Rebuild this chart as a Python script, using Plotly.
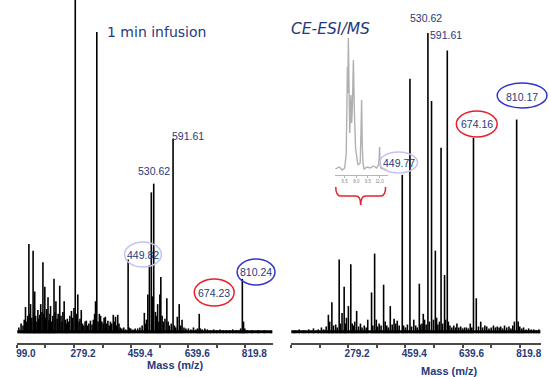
import plotly.graph_objects as go

W, H = 549, 377

# ---------------- data ----------------
# Left panel: 1 min infusion (m/z, relative intensity)
left_mz = [105, 112, 118, 122, 126, 130, 133, 136.7, 140, 142, 146, 150, 153, 155, 158, 162, 165, 168, 171,
           174, 178, 181, 184, 187, 190, 193, 197, 200, 203, 205, 209, 212, 216, 219, 222, 226, 229, 234, 238,
           241, 244, 248, 252, 255, 258, 262, 266, 271, 275, 279, 283, 287, 291, 295, 298, 302, 306, 310, 314,
           318, 322, 326, 331, 336, 340, 344, 347, 351, 355, 359, 363, 367, 371, 374, 378, 382, 386, 390, 394,
           398, 403, 406, 410, 413, 417, 421, 425, 430, 436, 442, 449.82, 453, 458, 465, 472, 480, 487, 494,
           501, 505, 508, 512, 517, 523, 527, 530.62, 536, 540, 543, 547, 550, 553, 557, 561, 566, 572, 576,
           580, 586, 591.61, 596, 600, 605, 611, 616, 620, 626, 632, 640, 648, 656, 664, 669, 674.23, 678, 684,
           692, 700, 710, 720, 730, 740, 750, 760, 770, 780, 790, 800, 805, 810.24, 814, 818, 825, 840, 860,
           880, 900]
left_int = [6, 10, 8, 14, 27, 12, 18, 92, 20, 30, 16, 85, 22, 43, 18, 12, 24, 15, 19,
            30, 22, 73, 20, 48, 16, 25, 37, 14, 20, 28, 12, 18, 56, 22, 33, 15, 20, 49, 18,
            12, 22, 33, 14, 10, 15, 12, 18, 23, 16, 26, 360, 20, 40, 12, 15, 24, 10, 8, 12,
            13, 8, 10, 13, 9, 14, 20, 33, 310, 12, 20, 18, 12, 10, 16, 17, 10, 13, 8, 12,
            10, 19, 12, 17, 8, 19, 10, 6, 5, 6, 4, 76, 6, 5, 4, 5, 5, 6, 8,
            21, 10, 14, 40, 70, 145, 38, 154, 22, 18, 30, 12, 40, 58, 18, 12, 15, 36, 12,
            8, 10, 200, 8, 6, 17, 30, 8, 14, 6, 5, 5, 4, 6, 4, 5, 20, 5, 4,
            5, 4, 3, 4, 3, 4, 3, 3, 3, 4, 3, 3, 5, 56, 12, 5, 3, 3, 3,
            3, 2]

# Right panel: CE-ESI/MS
right_mz = [110, 125, 140, 155, 170, 185, 195, 202, 210, 217, 221, 228, 233, 240, 245, 251, 255, 260, 266.7,
            270, 274, 280, 287.6, 292, 296, 300, 306, 312, 318, 323, 330, 336, 341, 353, 357, 362.7, 368, 372,
            377, 383, 391, 396, 401, 406, 412, 418, 424, 429, 434, 440, 449.77, 454, 460, 466, 474, 479, 486,
            492, 497, 503.5, 507, 512, 516, 520, 525, 530.62, 535, 542, 548, 554, 558, 562, 567, 572, 577, 583,
            586, 591.61, 595, 600, 606, 612, 618, 622, 628, 634, 640, 646, 652, 658, 664, 669, 674.16, 683, 690,
            697, 703, 710, 716, 723, 730, 737, 743, 749, 755, 760, 766, 772, 779, 786, 792, 798, 803, 810.17,
            815, 820, 826, 832, 840, 848, 856, 864, 872, 880]
right_int = [3, 4, 3, 4, 5, 4, 6, 4, 7, 19, 12, 32, 8, 9, 6, 76, 10, 21, 48,
             10, 16, 28, 71, 10, 8, 12, 23, 7, 10, 6, 8, 6, 14, 42, 8, 82, 14, 7,
             10, 8, 50, 12, 8, 6, 28, 9, 15, 10, 13, 8, 163, 8, 6, 9, 262, 7, 14,
             8, 6, 51, 9, 10, 20, 14, 9, 309, 12, 239, 14, 85, 16, 9, 12, 191, 10, 60,
             14, 291, 12, 8, 6, 8, 6, 10, 6, 7, 5, 6, 6, 5, 10, 6, 201, 36, 7,
             12, 6, 8, 7, 5, 6, 8, 6, 7, 6, 7, 5, 8, 6, 7, 5, 8, 12, 220,
             12, 7, 5, 6, 4, 5, 4, 4, 3, 4]

# Inset electropherogram (migration time, intensity)
inset_t = [5.3, 5.8, 6.2, 6.5, 6.7, 6.8, 6.85, 6.9, 6.97, 7.05, 7.15, 7.3, 7.4, 7.5, 7.62, 7.75, 7.9, 8.2,
           8.5, 8.6, 8.68, 8.76, 8.85, 9.0, 9.4, 9.8, 10.2, 10.6, 10.85, 10.95, 11.0, 11.05, 11.15, 11.5, 11.9]
inset_i = [4, 6, 3, 5, 20, 60, 106, 80, 135, 90, 40, 78, 50, 70, 113, 60, 25, 8,
           10, 40, 73, 30, 10, 4, 6, 5, 7, 5, 8, 15, 26, 12, 5, 4, 3]
inset_ticks = [6.5, 8.0, 9.5, 11.0]
inset_ticktext = ["6.5", "8.0", "9.5", "11.0"]

major_ticks = [99.0, 279.2, 459.4, 639.6, 819.8]
minor_ticks = [189.1, 369.3, 549.5, 729.7]
left_ticklabels = ["99.0", "279.2", "459.4", "639.6", "819.8"]
right_ticklabels = ["", "279.2", "459.4", "639.6", "819.8"]

left_label_text = ["530.62", "591.61", "449.82", "674.23", "810.24"]
right_label_text = ["530.62", "591.61", "449.77", "674.16", "810.17"]

# ---------------- helpers ----------------
def PX(x):
    return x / W


def PY(y):
    return 1 - y / H


def sticks(mz, it):
    xs, ys = [], []
    for m, v in zip(mz, it):
        xs += [m, m, None]
        ys += [0, v, None]
    return xs, ys


NAVY = "#253a7c"

fig = go.Figure()

lx, ly = sticks(left_mz, left_int)
rx, ry = sticks(right_mz, right_int)

# baselines (noise floor)
fig.add_trace(go.Scatter(x=[left_mz[0] - 5, left_mz[-1] + 5], y=[1.5, 1.5], mode="lines",
                         line=dict(color="black", width=3), xaxis="x", yaxis="y", hoverinfo="skip"))
fig.add_trace(go.Scatter(x=[right_mz[0] - 10, right_mz[-1] + 5], y=[1.5, 1.5], mode="lines",
                         line=dict(color="black", width=3), xaxis="x2", yaxis="y2", hoverinfo="skip"))
fig.add_trace(go.Scatter(x=lx, y=ly, mode="lines", line=dict(color="black", width=1.6),
                         xaxis="x", yaxis="y"))
fig.add_trace(go.Scatter(x=rx, y=ry, mode="lines", line=dict(color="black", width=1.6),
                         xaxis="x2", yaxis="y2"))
fig.add_trace(go.Scatter(x=inset_t, y=inset_i, mode="lines", line=dict(color="#b0b0b0", width=1.4),
                         xaxis="x3", yaxis="y3"))

tickvals = major_ticks + minor_ticks
axis_common = dict(showline=True, linecolor="#4a4a4a", linewidth=2, ticks="outside", ticklen=3,
                   tickwidth=1.5, tickcolor="#4a4a4a", showgrid=False, zeroline=False,
                   tickfont=dict(family="Liberation Sans", size=10, color=NAVY, weight="bold"),
                   tickvals=tickvals, ticklabelshift=9, ticklabelstandoff=-3, fixedrange=True)

ydom = [1 - 343 / H, 1]
fig.update_layout(
    width=W, height=H, margin=dict(l=0, r=0, t=0, b=0),
    paper_bgcolor="white", plot_bgcolor="rgba(0,0,0,0)", showlegend=False,
    xaxis=dict(domain=[PX(16), PX(273)], range=[99, 907], anchor="y",
               ticktext=left_ticklabels + [""] * len(minor_ticks), **axis_common),
    yaxis=dict(domain=ydom, range=[-10, 343], visible=False, anchor="x"),
    xaxis2=dict(domain=[PX(291), PX(542)], range=[99, 887], anchor="y2",
                ticktext=right_ticklabels + [""] * len(minor_ticks), **axis_common),
    yaxis2=dict(domain=ydom, range=[-10, 343], visible=False, anchor="x2"),
    xaxis3=dict(domain=[PX(335), PX(388)], range=[5.22, 12.03], anchor="y3", showline=True,
                linecolor="#b5b5b5", linewidth=1, ticks="outside", ticklen=2, tickcolor="#b5b5b5",
                tickvals=inset_ticks, ticktext=inset_ticktext, showgrid=False, zeroline=False,
                tickfont=dict(family="Liberation Sans", size=4.5, color="#888888")),
    yaxis3=dict(domain=[PY(175), PY(35)], range=[-2, 138], visible=False, anchor="x3"),
)

ann = []
def txt(t, x, y, size, color=NAVY, family="Liberation Sans", bold=False):
    ann.append(dict(text=t, x=PX(x), y=PY(y), xref="paper", yref="paper", showarrow=False,
                    xanchor="center", yanchor="middle",
                    font=dict(family=family, size=size, color=color, weight="bold" if bold else "normal")))

left_label_pos = [(153.5, 171), (188, 136), (143, 255), (214, 293), (256, 272)]
right_label_pos = [(427, 18), (447, 35), (399, 163), (478, 124), (523, 97)]
for t, (x, y) in zip(left_label_text, left_label_pos):
    txt(t, x, y, 10.5)
for t, (x, y) in zip(right_label_text, right_label_pos):
    txt(t, x, y, 10.5)

txt("1 min infusion", 156, 32, 14, family="DejaVu Sans")
txt("<i>CE-ESI/MS</i>", 331, 29, 15.5, family="DejaVu Sans")
txt("Mass (m/z)", 175, 365, 11, bold=True)
txt("Mass (m/z)", 450, 371, 11, bold=True)

shapes = []
def ell(x0, y0, x1, y1, color):
    shapes.append(dict(type="circle", xref="paper", yref="paper", x0=PX(x0), x1=PX(x1),
                       y0=PY(y1), y1=PY(y0), line=dict(color=color, width=1.5)))

LAV, RED, BLUE = "#c3c3f0", "#e8202a", "#3434cc"
ell(124, 242, 161, 267, LAV)
ell(194, 279, 234, 306, RED)
ell(237, 259, 275, 285, BLUE)
ell(380, 152, 418, 173, LAV)
ell(457, 111, 498, 137, RED)
ell(498, 83, 548, 108, BLUE)

# red brace under the inset
pts = lambda x, y: f"{PX(x)},{PY(y)}"
brace = ("M " + pts(336, 187) + " Q " + pts(336, 196) + " " + pts(341, 196) +
         " L " + pts(356, 196) + " Q " + pts(361, 196) + " " + pts(361, 205) +
         " Q " + pts(361, 196) + " " + pts(366, 196) +
         " L " + pts(381, 196) + " Q " + pts(386, 196) + " " + pts(386, 187))
shapes.append(dict(type="path", xref="paper", yref="paper", path=brace,
                   line=dict(color=RED, width=1.5)))

fig.update_layout(annotations=ann, shapes=shapes)
fig.write_html("out.html", config={"displayModeBar": False},
               post_script="document.body.style.margin='0';")
